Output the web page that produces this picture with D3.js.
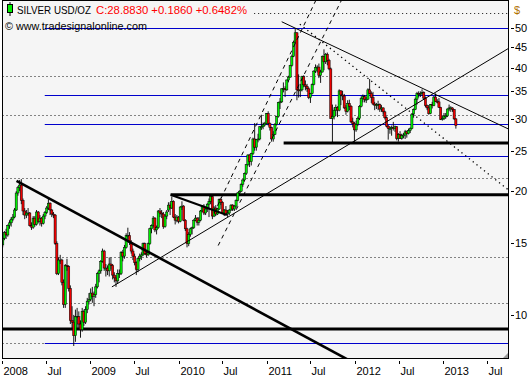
<!DOCTYPE html>
<html><head><meta charset="utf-8">
<script src="https://cdn.jsdelivr.net/npm/d3@7"></script>
<style>
body{margin:0;background:#fff}
svg{display:block}
text{font-family:"Liberation Sans",Arial,sans-serif}
</style>
</head><body>
<svg id="c" width="531" height="380"></svg>
<script>
// ---------------- DATA ----------------
const firstWeek = "2008-01-04"; // weekly bars, one per week from here
const opens = [
14.80,15.37,15.85,15.65,16.50,16.75,17.10,17.30,18.00,19.80,20.40,20.70,19.00,17.90,17.50,17.70,17.70,16.50,16.35,17.20,16.60,17.80,16.90,17.20,16.70,17.40,17.75,18.20,18.70,18.00,17.60,17.50,14.90,12.60,13.60,13.60,12.00,10.60,13.20,13.10,11.60,9.70,9.60,8.90,9.90,9.90,9.50,9.20,10.20,9.60,10.30,10.80,
10.90,11.30,11.10,11.20,11.70,12.60,12.80,13.50,14.30,13.00,13.00,12.80,13.30,13.20,12.50,12.30,12.10,12.60,12.60,14.20,13.90,14.60,15.60,15.60,15.00,14.30,13.90,13.40,12.90,13.70,13.90,14.00,14.90,14.10,14.00,14.90,16.20,16.50,17.20,16.10,16.30,17.90,17.70,17.60,16.40,17.40,18.00,18.50,18.20,18.90,17.30,17.00,
17.30,16.90,18.30,18.40,17.00,16.20,14.90,15.70,16.20,16.30,17.00,17.20,16.80,17.00,17.90,18.40,17.70,18.10,18.60,18.90,19.40,17.40,18.20,17.60,18.10,19.10,18.80,17.70,18.00,17.60,17.70,18.00,18.50,18.10,18.40,19.00,19.80,20.00,20.80,21.30,22.10,23.20,24.50,23.60,24.70,26.80,25.60,26.70,26.80,28.70,28.70,29.00,29.20,
30.90,29.20,28.60,26.80,27.50,29.10,30.40,32.90,33.00,35.50,35.60,35.30,37.30,37.90,40.50,42.60,46.10,48.60,35.30,35.10,35.30,38.00,36.30,36.00,35.50,33.80,34.60,36.40,39.20,40.00,40.10,38.30,39.00,42.60,41.30,43.10,41.60,39.70,30.10,30.40,31.50,32.00,31.50,35.10,34.30,34.10,31.90,31.30,32.70,32.20,29.50,29.20,
28.20,29.10,30.10,32.20,33.60,34.00,33.40,33.50,35.30,34.60,33.80,32.60,32.40,32.50,32.50,31.70,31.90,31.20,30.20,28.80,28.40,28.40,28.60,28.40,28.70,26.90,27.50,26.90,27.30,27.40,27.90,27.60,28.10,28.40,30.80,31.60,33.50,34.60,34.40,34.60,34.80,33.70,32.30,31.90,30.90,32.50,32.30,33.90,33.10,33.00,32.00,29.90,
30.10,30.50,30.50,31.70,31.90,31.90,31.60,30.00];
const highs = [
15.50,16.00,16.20,16.60,17.00,17.30,17.60,18.20,20.00,20.60,21.30,21.40,19.20,18.20,18.00,18.20,17.80,16.80,17.40,17.40,18.00,17.90,17.50,17.30,17.60,17.90,18.40,19.30,18.80,18.10,17.80,17.60,15.10,13.80,14.00,13.70,12.20,13.30,13.70,13.20,11.80,10.50,10.00,10.30,10.40,10.20,9.70,10.40,10.30,10.50,11.00,11.30,
11.60,11.70,11.40,11.90,12.70,12.90,13.60,14.50,14.40,13.30,13.20,13.80,13.80,13.30,12.70,12.50,12.90,12.90,14.30,14.40,14.80,15.80,16.30,15.90,15.20,14.50,14.10,13.50,13.80,14.10,14.20,15.00,15.00,14.30,15.00,16.30,16.60,17.40,17.30,16.50,18.00,18.20,18.00,17.80,17.60,18.00,18.80,18.80,19.40,19.00,17.60,17.50,
17.40,18.40,18.90,18.50,17.10,16.30,15.90,16.30,16.40,17.10,17.50,17.30,17.30,18.00,18.50,18.60,18.20,18.70,19.20,19.60,19.50,18.40,18.50,18.20,19.20,19.30,18.90,18.10,18.40,18.00,18.10,18.60,18.60,18.50,19.10,19.90,20.10,20.90,21.40,22.20,23.30,24.60,24.60,24.80,27.00,29.30,26.80,27.60,28.80,30.70,29.40,29.50,31.00,
31.30,29.40,28.70,28.00,29.30,30.50,33.00,33.70,35.60,36.80,36.00,37.40,38.20,40.60,43.00,46.50,49.80,48.70,38.50,36.50,38.20,38.30,37.20,36.50,35.80,34.70,36.60,39.40,40.70,40.50,40.90,39.50,42.80,44.30,43.40,43.50,42.00,40.00,32.50,32.00,32.50,32.20,35.40,35.20,35.10,34.50,32.40,33.30,33.40,32.40,30.20,29.50,
29.70,30.40,32.40,34.00,34.40,34.30,34.00,35.60,37.50,35.00,34.90,33.00,32.80,33.20,32.70,32.40,32.00,31.40,30.40,29.00,28.80,28.90,29.50,28.90,28.80,27.70,28.00,27.60,27.70,28.20,28.10,28.40,28.60,31.00,31.80,33.80,34.90,35.00,35.00,35.40,35.00,34.00,32.50,32.40,32.60,33.00,34.10,34.60,33.50,33.70,32.10,30.50,
31.00,31.00,31.80,32.50,32.20,32.00,31.70,30.10];
const lows = [
14.60,15.20,15.30,15.50,16.20,16.40,16.90,17.20,17.90,19.50,20.00,18.60,17.50,17.10,17.20,17.40,16.40,16.10,16.20,16.40,16.50,16.70,16.50,16.40,16.60,17.10,17.60,18.00,17.50,17.30,17.20,14.80,12.50,12.50,13.30,11.80,10.40,10.40,12.80,11.40,9.50,9.20,8.40,8.60,9.20,9.20,8.80,9.10,9.40,9.50,10.10,10.60,
10.80,10.70,10.50,11.00,11.60,12.00,12.60,13.40,12.80,12.40,12.50,12.40,12.90,12.20,12.00,11.70,11.90,12.30,12.50,13.50,13.70,14.50,15.30,14.80,14.10,13.60,13.20,12.50,12.70,13.50,13.60,13.90,14.00,13.80,13.90,14.80,15.80,16.30,15.90,15.70,16.20,17.30,17.20,16.20,16.30,17.10,17.80,17.50,18.10,17.20,16.60,16.80,
16.70,16.80,18.00,16.90,16.00,14.60,14.70,15.50,15.70,16.20,16.90,16.50,16.50,16.90,17.80,17.50,17.50,17.80,17.30,18.60,17.10,17.30,17.40,17.50,18.00,18.50,17.60,17.40,17.50,17.30,17.50,17.90,17.90,17.90,18.20,18.90,19.60,19.90,20.50,21.10,21.90,23.00,22.90,23.10,24.50,25.10,25.10,26.30,26.60,28.20,28.30,28.80,29.10,
28.90,28.10,26.40,26.40,27.40,28.90,30.20,31.70,32.80,34.80,33.90,35.10,36.80,37.80,40.20,42.40,45.70,33.30,33.80,33.90,35.00,35.80,35.20,34.90,33.50,32.80,34.40,36.20,38.80,38.90,37.70,36.70,38.90,39.40,40.80,40.50,39.40,30.00,26.10,29.90,30.50,30.30,31.30,32.40,33.30,31.70,30.70,31.10,31.50,29.30,28.60,26.20,
27.90,28.80,29.80,32.00,32.90,32.90,32.80,33.40,34.40,32.80,32.40,31.50,31.70,31.50,31.20,31.20,30.70,29.90,28.60,26.70,27.60,27.30,28.10,27.90,26.60,26.40,26.80,26.70,26.90,26.80,27.00,27.50,27.70,28.30,30.20,31.50,32.50,33.80,33.90,34.20,33.40,32.00,31.50,30.70,30.80,31.80,32.20,33.00,32.70,31.90,29.80,29.70,
29.80,30.00,30.30,31.30,31.20,31.20,29.80,28.40];
const closes = [
15.37,15.85,15.65,16.50,16.75,17.10,17.30,18.00,19.80,20.40,20.70,19.00,17.90,17.50,17.70,17.70,16.50,16.35,17.20,16.60,17.80,16.90,17.20,16.70,17.40,17.75,18.20,18.70,18.00,17.60,17.50,14.90,12.60,13.60,13.60,12.00,10.60,13.20,13.10,11.60,9.70,9.60,8.90,9.90,9.90,9.50,9.20,10.20,9.60,10.30,10.80,10.90,
11.30,11.10,11.20,11.70,12.60,12.80,13.50,14.30,13.00,13.00,12.80,13.30,13.20,12.50,12.30,12.10,12.60,12.60,14.20,13.90,14.60,15.60,15.60,15.00,14.30,13.90,13.40,12.90,13.70,13.90,14.00,14.90,14.10,14.00,14.90,16.20,16.50,17.20,16.10,16.30,17.90,17.70,17.60,16.40,17.40,17.80,18.50,18.20,18.90,17.30,17.00,17.30,
16.90,18.30,18.40,17.00,16.20,14.90,15.70,16.20,16.30,17.00,17.20,16.80,17.00,17.90,18.40,17.70,18.10,18.60,18.90,19.40,17.40,18.20,17.60,18.10,19.10,18.80,17.70,18.00,17.60,17.70,18.00,18.50,18.10,18.40,19.00,19.80,20.00,20.80,21.30,22.10,23.20,24.50,23.60,24.70,26.80,25.60,26.70,26.80,28.70,28.70,29.00,29.20,30.90,
29.20,28.60,26.80,27.50,29.10,30.40,32.90,33.00,35.50,35.60,35.30,37.30,37.90,40.50,42.60,46.10,48.60,35.30,35.10,35.30,38.00,36.30,36.00,35.50,33.80,34.60,36.40,39.20,40.00,40.10,38.30,39.00,42.60,41.30,43.10,41.60,39.70,30.10,30.40,31.50,32.00,31.50,35.10,34.30,34.10,31.90,31.30,32.70,32.20,29.50,29.20,28.20,
29.10,30.10,32.20,33.60,34.00,33.40,33.50,35.30,34.60,33.80,32.60,32.40,32.50,32.50,31.70,31.90,31.20,30.20,28.80,28.40,28.40,28.60,28.40,28.70,26.90,27.50,26.90,27.30,27.40,27.90,27.60,28.10,28.40,30.80,31.60,33.50,34.60,34.40,34.60,34.80,33.70,32.30,31.90,30.90,32.50,32.30,33.90,33.10,33.00,32.00,29.90,30.10,
30.50,30.50,31.70,31.90,31.90,31.60,30.00,28.88];

const yTicks = [10,15,20,25,30,35,40,45,50];
const xTickDates = ["2008-01-01","2008-07-01","2009-01-01","2009-07-01","2010-01-01","2010-07-01","2011-01-01","2011-07-01","2012-01-01","2012-07-01","2013-01-01","2013-07-01"];
const xTickLabels = ["2008","Jul","2009","Jul","2010","Jul","2011","Jul","2012","Jul","2013","Jul"];

// horizontal levels
const dottedLevels = [54.2, 38.1, 30.6, 21.5, 13.8, 10.7, 8.54];
const dottedStarts = ["2010-11-10", "2007-12-01", "2007-12-01", "2007-12-01", "2007-12-01", "2007-12-01", "2007-12-01"];
const blueLevels = [50, 34.3, 29.2, 24.4, 8.54];
const blueStart = "2008-06-26";
const thickLevels = [26.2, 19.6, 9.24];
const thickStarts = ["2011-03-12", "2009-11-29", "2007-12-01"];

// drawn trend lines: [startDate, startValue, endDate, endValue]
const solidLines = [
  ["2008-03-01", 21.2, "2011-12-07", 7.76],
  ["2009-11-29", 19.6, "2010-07-20", 17.5],
  ["2009-03-31", 11.7, "2013-09-30", 44.6],
  ["2011-03-04", 51.7, "2013-09-30", 28.3]
];
const dottedLines = [
  ["2011-05-18", 51.0, "2013-09-30", 20.1]
];
const dashedLines = [
  ["2010-05-28", 17.7, "2011-08-13", 61.8],
  ["2010-06-14", 14.75, "2011-11-28", 61.8]
];

const titleName = "SILVER USD/OZ";
const titleQuote = "C:28.8830 +0.1860 +0.6482%";
const copyright = "© www.tradesignalonline.com";

// ---------------- CHART ----------------
const svg = d3.select("#c");
const L = 2, R = 509, T = 0, B = 359;
const parse = d3.utcParse("%Y-%m-%d");
const x = d3.scaleUtc().domain([parse("2008-01-01"), parse("2013-09-30")]).range([L, R]);
const y = d3.scaleLog().domain([7.81, 58.4]).range([B, T]);

const weeks = closes.map((c, i) => {
  const d = d3.utcDay.offset(parse(firstWeek), 7 * i);
  return {d, o: opens[i], h: highs[i], l: lows[i], c};
});

svg.append("rect").attr("x", L).attr("y", T).attr("width", R - L).attr("height", B - T).attr("fill", "#f5f5f5");

svg.append("defs").append("clipPath").attr("id", "clip")
  .append("rect").attr("x", L).attr("y", T).attr("width", R - L).attr("height", B - T);
const g = svg.append("g").attr("clip-path", "url(#clip)");

// dotted levels
g.selectAll(".dl").data(dottedLevels).join("line")
  .attr("x1", (v, i) => x(parse(dottedStarts[i]))).attr("x2", R)
  .attr("y1", v => Math.round(y(v)) + 0.5).attr("y2", v => Math.round(y(v)) + 0.5)
  .attr("stroke", "#111").attr("stroke-width", 1).attr("stroke-dasharray", "1,3");

// blue levels
g.selectAll(".bl").data(blueLevels).join("line")
  .attr("x1", x(parse(blueStart))).attr("x2", R)
  .attr("y1", v => Math.round(y(v)) + 0.5).attr("y2", v => Math.round(y(v)) + 0.5)
  .attr("stroke", "#0000cc").attr("stroke-width", 1.2);

// thick levels
g.selectAll(".tl").data(thickLevels).join("line")
  .attr("x1", (v, i) => x(parse(thickStarts[i]))).attr("x2", R)
  .attr("y1", v => y(v)).attr("y2", v => y(v))
  .attr("stroke", "#000").attr("stroke-width", 3);

// candles
const cg = g.append("g");
cg.selectAll("line").data(weeks).join("line")
  .attr("x1", d => x(d.d)).attr("x2", d => x(d.d))
  .attr("y1", d => y(d.h)).attr("y2", d => y(d.l))
  .attr("stroke", "#000").attr("stroke-width", 0.9);
cg.selectAll("rect").data(weeks).join("rect")
  .attr("x", d => x(d.d) - 1.1).attr("width", 2.2)
  .attr("y", d => y(Math.max(d.o, d.c)))
  .attr("height", d => Math.max(1, Math.abs(y(d.o) - y(d.c))))
  .attr("fill", d => d.c >= d.o ? "#00ee00" : "#ee0000")
  .attr("stroke", "#000").attr("stroke-width", 0.5);

// trend lines
const seg = a => ({x1: x(parse(a[0])), y1: y(a[1]), x2: x(parse(a[2])), y2: y(a[3])});
solidLines.forEach((a, i) => {
  const s = seg(a);
  g.append("line").attr("x1", s.x1).attr("y1", s.y1).attr("x2", s.x2).attr("y2", s.y2)
    .attr("stroke", "#000").attr("stroke-width", i === 0 ? 2.6 : (i === 1 ? 2 : 1));
});
dottedLines.forEach(a => {
  const s = seg(a);
  g.append("line").attr("x1", s.x1).attr("y1", s.y1).attr("x2", s.x2).attr("y2", s.y2)
    .attr("stroke", "#000").attr("stroke-width", 1.3).attr("stroke-dasharray", "1.3,3.5");
});
dashedLines.forEach(a => {
  const s = seg(a);
  g.append("line").attr("x1", s.x1).attr("y1", s.y1).attr("x2", s.x2).attr("y2", s.y2)
    .attr("stroke", "#000").attr("stroke-width", 1).attr("stroke-dasharray", "4,4");
});

// frame
svg.append("rect").attr("x", L + 0.5).attr("y", T + 0.5).attr("width", R - L - 1).attr("height", B - T - 1)
  .attr("fill", "none").attr("stroke", "#000");
svg.append("path").attr("d", `M${R-6},${B-1}L${R-1},${B-6}L${R-1},${B-1}Z`).attr("fill", "#999");

// title
svg.append("line").attr("x1", 10).attr("x2", 10).attr("y1", 2).attr("y2", 16).attr("stroke", "#000");
svg.append("rect").attr("x", 7.5).attr("y", 4.5).attr("width", 5).attr("height", 8).attr("fill", "#00ee00").attr("stroke", "#000");
svg.append("text").attr("x", 17).attr("y", 14).attr("font-size", 11).attr("fill", "#000")
  .attr("textLength", 74).attr("lengthAdjust", "spacingAndGlyphs").text(titleName);
svg.append("text").attr("x", 96).attr("y", 14).attr("font-size", 11).attr("fill", "#ff0000")
  .attr("textLength", 151).attr("lengthAdjust", "spacingAndGlyphs").text(titleQuote);
svg.append("text").attr("x", 5).attr("y", 29.5).attr("font-size", 11).attr("fill", "#000")
  .attr("textLength", 142).attr("lengthAdjust", "spacingAndGlyphs").text(copyright);

// y axis (right)
const ya = svg.append("g");
yTicks.forEach(v => {
  const yy = Math.round(y(v)) + 0.5;
  ya.append("line").attr("x1", R + 2).attr("x2", R + 5).attr("y1", yy).attr("y2", yy).attr("stroke", "#000");
  ya.append("text").attr("x", R + 6).attr("y", yy).attr("dy", "0.36em").attr("font-size", 11).text(v);
});
ya.append("text").attr("x", R + 5).attr("y", 14).attr("font-size", 11).attr("fill", "#b07000").text("$");

// x axis (bottom)
const xa = svg.append("g");
xTickDates.forEach((s, i) => {
  const xx = Math.round(x(parse(s))) + 0.5;
  xa.append("line").attr("x1", xx).attr("x2", xx).attr("y1", B + 2).attr("y2", B + 5).attr("stroke", "#000");
  xa.append("text").attr("x", xx + 1).attr("y", B + 16).attr("font-size", 11).text(xTickLabels[i]);
});
</script>
</body></html>
